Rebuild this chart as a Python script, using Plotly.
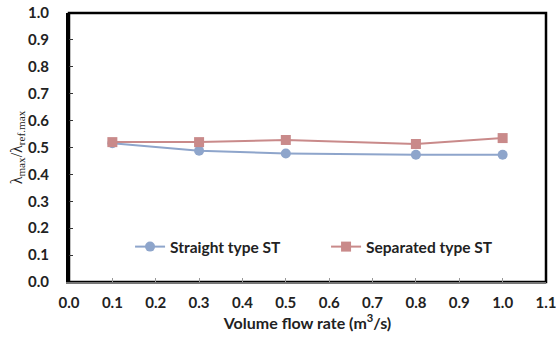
import plotly.graph_objects as go

flow = [0.1, 0.3, 0.5, 0.8, 1.0]
straight = [0.516, 0.488, 0.478, 0.473, 0.473]
separated = [0.520, 0.520, 0.528, 0.513, 0.535]
x_ticks = [round(i * 0.1, 1) for i in range(12)]
y_ticks = [round(i * 0.1, 1) for i in range(11)]

blue = "#8EA5CB"
red = "#C98A8A"
font_fam = "Lato, 'Open Sans', sans-serif"

fig = go.Figure()
fig.add_trace(go.Scatter(x=flow, y=straight, mode="lines+markers", name="<b>Straight type ST</b>",
                         line=dict(color=blue, width=2), marker=dict(symbol="circle", size=10, color=blue)))
fig.add_trace(go.Scatter(x=flow, y=separated, mode="lines+markers", name="<b>Separated type ST</b>",
                         line=dict(color=red, width=2), marker=dict(symbol="square", size=10, color=red)))

fig.add_shape(type="rect", xref="paper", yref="paper", x0=0, y0=0, x1=1, y1=1,
              line=dict(color="black", width=2.5), layer="below")

fig.update_layout(
    width=556, height=342,
    margin=dict(l=69, r=10, t=13, b=60, autoexpand=False),
    paper_bgcolor="white", plot_bgcolor="white",
    font=dict(family=font_fam, size=15, color="#222"),
    showlegend=True,
    legend=dict(orientation="h", x=0.128, y=0.13, xanchor="left", yanchor="middle",
                bgcolor="rgba(0,0,0,0)", entrywidth=151, entrywidthmode="pixels",
                font=dict(family=font_fam, size=15.5, color="#222")),
    xaxis=dict(range=[0, 1.1], tickvals=x_ticks, ticktext=[f"<b>{v:.1f}</b>" for v in x_ticks],
               showgrid=False, zeroline=False, showline=True, linecolor="#777", linewidth=2,
               ticks="inside", ticklen=4, tickcolor="#999", tickwidth=1, automargin=False,
               tickfont=dict(size=15), ticklabelstandoff=6, ticklabeloverflow="allow",
               title=dict(text="<b>Volume flow rate (m<sup>3</sup>/s)</b>", font=dict(size=16), standoff=6)),
    yaxis=dict(range=[0, 1.0], tickvals=y_ticks, ticktext=[f"<b>{v:.1f}</b>" for v in y_ticks],
               showgrid=False, zeroline=False, showline=True, linecolor="black", linewidth=3,
               ticks="inside", ticklen=4, tickcolor="#333", tickwidth=1, automargin=False,
               tickfont=dict(size=15), ticklabelstandoff=14, ticklabeloverflow="allow",
               title=dict(text="λ<sub>max</sub>/λ<sub>ref.max</sub>",
                          font=dict(family="'Liberation Serif', 'DejaVu Serif', serif", size=16), standoff=2)),
)

fig.write_html("out.html", config={"displayModeBar": False},
               post_script="document.body.style.margin='0';")
